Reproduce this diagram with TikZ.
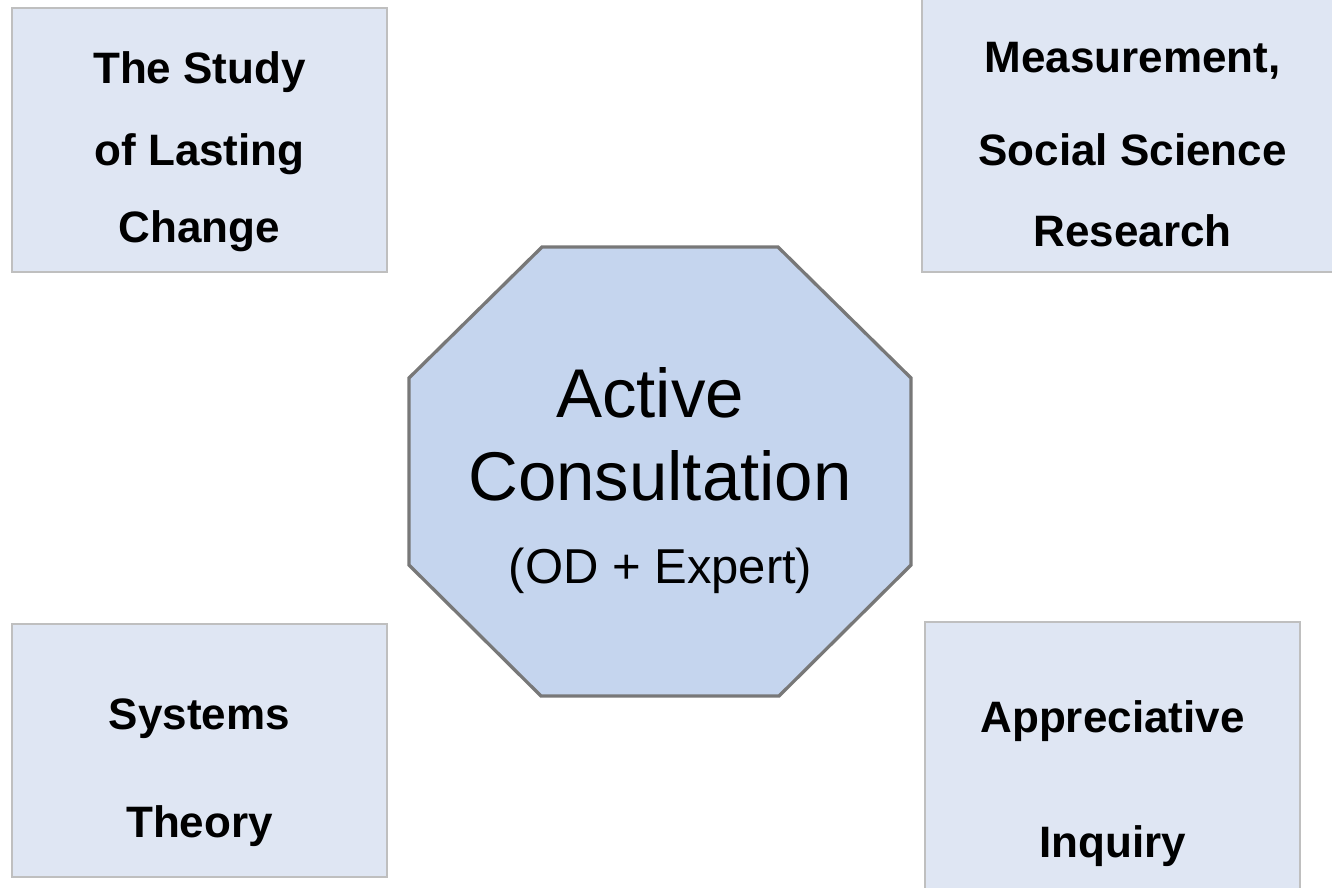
\documentclass[tikz,border=0pt]{standalone}
\usepackage{fontspec}
\setmainfont{Liberation Sans}
\definecolor{boxfill}{RGB}{223,230,243}
\definecolor{boxline}{RGB}{191,191,191}
\definecolor{octfill}{RGB}{197,213,238}
\definecolor{octline}{RGB}{120,120,120}
\tikzset{
  sidebox/.style={draw=boxline, fill=boxfill, line width=2pt, inner sep=0pt},
  boxtext/.style={anchor=base, inner sep=0pt, font=\fontsize{44}{44}\selectfont\bfseries},
  bigtext/.style={anchor=base, inner sep=0pt, font=\fontsize{69}{69}\selectfont},
  smalltext/.style={anchor=base, inner sep=0pt, font=\fontsize{49}{49}\selectfont},
  octa/.style={draw=octline, fill=octfill, line width=3.3pt, line join=miter}
}
\begin{document}
\begin{tikzpicture}[x=1pt, y=-1pt]
\useasboundingbox (0,0) rectangle (1332,887);
\clip (0,0) rectangle (1332,887);
% boxes
\node[sidebox, minimum width=375pt, minimum height=264pt] (tl) at (199.5,139.5) {};
\node[sidebox, minimum width=421pt, minimum height=280pt] (tr) at (1132.5,132) {};
\node[sidebox, minimum width=375pt, minimum height=253pt] (bl) at (199.5,750.5) {};
\node[sidebox, minimum width=375pt, minimum height=280pt] (br) at (1112.5,762) {};
% octagon
\coordinate (o1) at (542,247);
\coordinate (o2) at (778,247);
\coordinate (o3) at (911,378);
\coordinate (o4) at (911,565);
\coordinate (o5) at (779,696);
\coordinate (o6) at (541,696);
\coordinate (o7) at (409,565);
\coordinate (o8) at (409,378);
\draw[octa] (o1) -- (o2) -- (o3) -- (o4) -- (o5) -- (o6) -- (o7) -- (o8) -- cycle;
% box texts
\node[boxtext] (tl1) at (199.5,83) {The Study};
\node[boxtext] (tl2) at (199.5,165) {of Lasting};
\node[boxtext] (tl3) at (199.5,242) {Change};
\node[boxtext] (tr1) at (1132.5,72.5) {Measurement,};
\node[boxtext] (tr2) at (1132.5,165.5) {Social Science};
\node[boxtext] (tr3) at (1132.5,246.5) {Research};
\node[boxtext] (bl1) at (199.5,729) {Systems};
\node[boxtext] (bl2) at (199.5,837) {Theory};
\node[boxtext] (br1) at (1112.5,732) {Appreciative};
\node[boxtext] (br2) at (1112.5,857) {Inquiry};
% center texts
\node[bigtext] (c1) at (650,417) {Active};
\node[bigtext] (c2) at (660,500) {Consultation};
\node[smalltext] (c3) at (660.5,583) {(OD + Expert)};
\end{tikzpicture}
\end{document}
